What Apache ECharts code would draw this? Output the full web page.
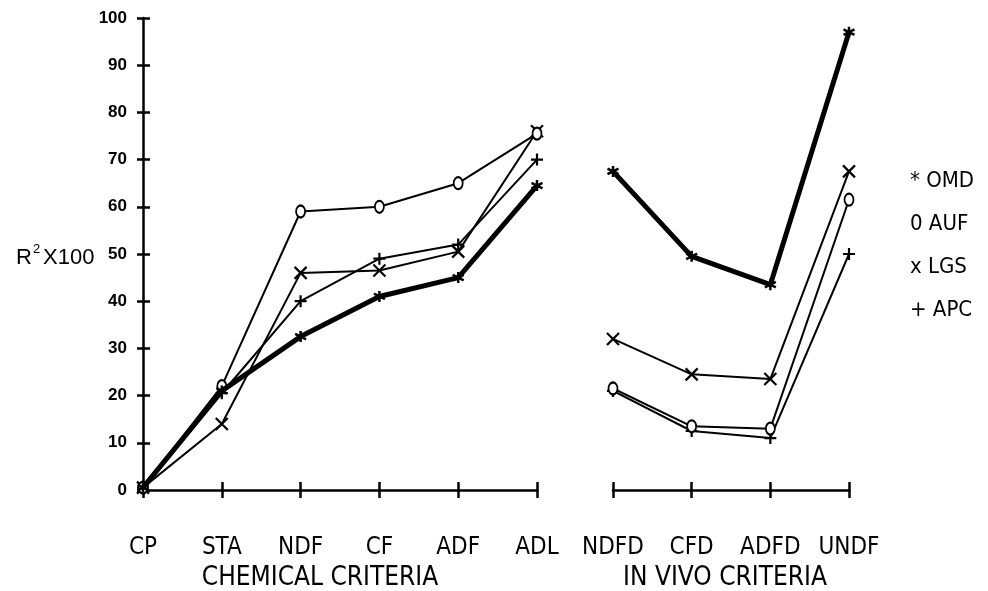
<!DOCTYPE html>
<html>
<head>
<meta charset="utf-8">
<script src="https://cdn.jsdelivr.net/npm/echarts@6/dist/echarts.min.js"></script>
<style>
html,body{margin:0;padding:0;background:#fff;}
#chart{width:988px;height:591px;}
</style>
</head>
<body>
<div id="chart"></div>
<script>
var chemCategories = ['CP', 'STA', 'NDF', 'CF', 'ADF', 'ADL'];
var vivoCategories = ['NDFD', 'CFD', 'ADFD', 'UNDF'];
var seriesNames = ['OMD', 'AUF', 'LGS', 'APC'];
var legendMarks = ['*', '0', 'x', '+'];

var omdChem = [0.5, 21, 32.5, 41, 45, 64.5];
var aufChem = [0.5, 22, 59, 60, 65, 75.5];
var lgsChem = [0.5, 14, 46, 46.5, 50.5, 76];
var apcChem = [0.5, 20.5, 40, 49, 52, 70];

var omdVivo = [67.5, 49.5, 43.5, 97];
var aufVivo = [21.5, 13.5, 13, 61.5];
var lgsVivo = [32, 24.5, 23.5, 67.5];
var apcVivo = [21, 12.5, 11, 50];

var yTicks = [0, 10, 20, 30, 40, 50, 60, 70, 80, 90, 100];

var plain = "'Liberation Sans', Arial, sans-serif";
var cond = "'DejaVu Sans Condensed', 'Liberation Sans', sans-serif";

var SYM_STAR = 'path://M5,0L5,10M0.7,2.5L9.3,7.5M0.7,7.5L9.3,2.5';
var SYM_X = 'path://M0,0L10,10M0,10L10,0';
var SYM_PLUS = 'path://M5,0L5,10M0,5L10,5';

var chart = echarts.init(document.getElementById('chart'), null, {renderer: 'canvas'});

function mkSeries(name, data, xi, yi, cfg) {
  return {
    name: name,
    type: 'line',
    xAxisIndex: xi,
    yAxisIndex: yi,
    data: data,
    symbol: cfg.symbol,
    symbolSize: cfg.size,
    showAllSymbol: true,
    lineStyle: {color: '#000', width: cfg.lw},
    itemStyle: {color: '#000', borderColor: '#000', borderWidth: cfg.bw},
    emphasis: {disabled: true},
    animation: false,
    z: cfg.z
  };
}

var styles = {
  OMD: {symbol: SYM_STAR, size: 11, lw: 5, bw: 2.5, z: 5},
  AUF: {symbol: 'emptyCircle', size: [9, 12], lw: 2, bw: 2.5, z: 4},
  LGS: {symbol: SYM_X, size: 12, lw: 2, bw: 2.2, z: 3},
  APC: {symbol: SYM_PLUS, size: 12, lw: 2, bw: 2.2, z: 2}
};

var chemData = {OMD: omdChem, AUF: aufChem, LGS: lgsChem, APC: apcChem};
var vivoData = {OMD: omdVivo, AUF: aufVivo, LGS: lgsVivo, APC: apcVivo};

var series = [];
seriesNames.forEach(function (n) {
  series.push(mkSeries(n, chemData[n], 0, 0, styles[n]));
  series.push(mkSeries(n, vivoData[n], 2, 2, styles[n]));
});

var xLabel = {
  show: true, interval: 0, hideOverlap: false, margin: 46, color: '#000', fontFamily: cond, fontSize: 24
};

var option = {
  backgroundColor: '#fff',
  animation: false,
  grid: [
    {left: 143, top: 18, width: 394, height: 472},
    {left: 613, top: 18, width: 236, height: 472}
  ],
  xAxis: [
    {gridIndex: 0, type: 'category', data: chemCategories, boundaryGap: false, position: 'bottom', offset: 0,
      axisLine: {show: true, lineStyle: {color: '#000', width: 2.5}},
      axisTick: {show: true, interval: 0, inside: false, length: 8, lineStyle: {color: '#000', width: 2.5}},
      axisLabel: xLabel, splitLine: {show: false}},
    {gridIndex: 0, type: 'category', data: chemCategories, boundaryGap: false, position: 'bottom', offset: 0,
      axisLine: {show: false},
      axisTick: {show: true, interval: 0, inside: true, length: 8, lineStyle: {color: '#000', width: 2.5}},
      axisLabel: {show: false}, splitLine: {show: false}},
    {gridIndex: 1, type: 'category', data: vivoCategories, boundaryGap: false, position: 'bottom', offset: 0,
      axisLine: {show: true, lineStyle: {color: '#000', width: 2.5}},
      axisTick: {show: true, interval: 0, inside: false, length: 8, lineStyle: {color: '#000', width: 2.5}},
      axisLabel: xLabel, splitLine: {show: false}},
    {gridIndex: 1, type: 'category', data: vivoCategories, boundaryGap: false, position: 'bottom', offset: 0,
      axisLine: {show: false},
      axisTick: {show: true, interval: 0, inside: true, length: 8, lineStyle: {color: '#000', width: 2.5}},
      axisLabel: {show: false}, splitLine: {show: false}}
  ],
  yAxis: [
    {gridIndex: 0, type: 'value', min: yTicks[0], max: yTicks[yTicks.length - 1], interval: 10, position: 'left', offset: 0,
      axisLine: {show: true, lineStyle: {color: '#000', width: 2.5}},
      axisTick: {show: true, inside: false, length: 6, lineStyle: {color: '#000', width: 2.5}},
      axisLabel: {show: true, margin: 16, color: '#000', fontFamily: plain, fontWeight: 'bold', fontSize: 17},
      splitLine: {show: false}},
    {gridIndex: 0, type: 'value', min: yTicks[0], max: yTicks[yTicks.length - 1], interval: 10, position: 'left', offset: 0,
      axisLine: {show: false},
      axisTick: {show: true, inside: true, length: 7, lineStyle: {color: '#000', width: 2.5}},
      axisLabel: {show: false}, splitLine: {show: false}},
    {gridIndex: 1, type: 'value', min: yTicks[0], max: yTicks[yTicks.length - 1], interval: 10,
      show: false, splitLine: {show: false}}
  ],
  legend: {
    orient: 'vertical',
    left: 900,
    top: 164,
    itemGap: 19,
    itemWidth: 0,
    itemHeight: 22,
    selectedMode: false,
    data: seriesNames.map(function (n) { return {name: n, icon: 'none'}; }),
    formatter: function (name) { return legendMarks[seriesNames.indexOf(name)] + ' ' + name; },
    textStyle: {color: '#000', fontFamily: cond, fontSize: 22, lineHeight: 24, padding: 0}
  },
  graphic: [
    {type: 'text', left: 16, top: 243, style: {
      text: '{a|R}{s|2}{a|X100}', fill: '#000',
      rich: {
        a: {fontFamily: plain, fontSize: 22, verticalAlign: 'bottom', lineHeight: 26},
        s: {fontFamily: plain, fontSize: 13, verticalAlign: 'top', lineHeight: 26, padding: [0, 3, 10, 1]}
      }}},
    {type: 'text', x: 320, y: 578, style: {text: 'CHEMICAL CRITERIA', fill: '#000', fontFamily: cond, fontSize: 26, align: 'center', verticalAlign: 'middle'}},
    {type: 'text', x: 725, y: 578, style: {text: 'IN VIVO CRITERIA', fill: '#000', fontFamily: cond, fontSize: 26, align: 'center', verticalAlign: 'middle'}}
  ],
  series: series
};

chart.setOption(option);
</script>
</body>
</html>
